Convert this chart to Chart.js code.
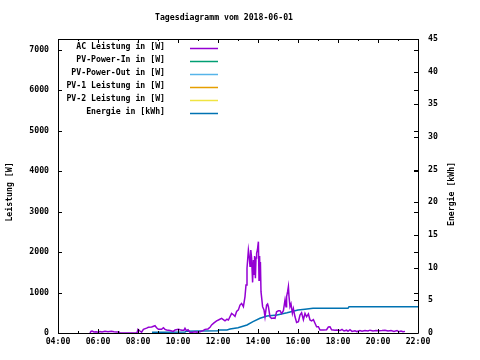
<!DOCTYPE html>
<html>
<head>
<meta charset="utf-8">
<script src="https://cdn.jsdelivr.net/npm/chart.js"></script>
<style>
  html, body { margin: 0; padding: 0; background: #fff; }
  canvas { display: block; }
</style>
</head>
<body>
<canvas id="chart" width="480" height="360"></canvas>
<script>
// chart data (hours of day, watts / kWh)
const titleText = "Tagesdiagramm vom 2018-06-01";
const seriesNames = ["AC Leistung in [W]", "PV-Power-In in [W]", "PV-Power-Out in [W]",
  "PV-1 Leistung in [W]", "PV-2 Leistung in [W]", "Energie in [kWh]"];
const seriesColors = ["#9400d3", "#009e73", "#56b4e9", "#e69f00", "#f0e442", "#0072b2"];

const acHours = [5.60, 5.65, 5.70, 5.80, 5.90, 6.00, 6.10, 6.20, 6.35, 6.50, 6.67, 6.80, 6.95, 7.05, 7.10,
  7.95, 8.00, 8.10, 8.18, 8.27, 8.43, 8.52, 8.68, 8.85, 8.93, 9.02, 9.18, 9.27, 9.35, 9.43, 9.60, 9.77, 9.85,
  10.02, 10.10, 10.20, 10.30, 10.35, 10.42, 10.50, 10.60, 10.70, 10.85, 10.95, 11.10, 11.25, 11.35, 11.50,
  11.60, 11.68, 11.80, 11.93, 12.02, 12.18, 12.35, 12.45, 12.52, 12.68, 12.77, 12.85, 12.93, 13.02, 13.10,
  13.18, 13.27, 13.35, 13.40, 13.45, 13.52, 13.56, 13.60, 13.64, 13.68, 13.73, 13.77, 13.80, 13.83, 13.87,
  13.90, 13.93, 13.97, 14.02, 14.05, 14.08, 14.10, 14.12, 14.15, 14.23, 14.30, 14.35, 14.43, 14.48, 14.52,
  14.60, 14.68, 14.77, 14.85, 14.93, 15.02, 15.10, 15.18, 15.27, 15.35, 15.40, 15.43, 15.48, 15.52, 15.55,
  15.60, 15.65, 15.72, 15.77, 15.85, 15.93, 16.02, 16.10, 16.18, 16.27, 16.35, 16.43, 16.52, 16.60, 16.68,
  16.77, 16.85, 16.93, 17.02, 17.10, 17.27, 17.43, 17.52, 17.60, 17.68, 17.85, 17.93, 18.10, 18.20, 18.30,
  18.43, 18.50, 18.60, 18.70, 18.85, 18.95, 19.10, 19.20, 19.35, 19.50, 19.60, 19.75, 19.90, 20.05, 20.20,
  20.35, 20.50, 20.65, 20.80, 20.95, 21.05, 21.15, 21.25, 21.35];
const acWatts = [0, 40, 50, 25, 30, 20, 35, 25, 40, 30, 45, 30, 25, 25, 0,
  0, 90, 50, 20, 90, 120, 140, 150, 180, 130, 90, 90, 130, 90, 75, 60, 40, 75,
  90, 80, 70, 70, 115, 60, 80, 20, 15, 30, 20, 30, 60, 90, 100,
  140, 200, 250, 300, 320, 360, 300, 340, 320, 485, 450, 410, 530, 570, 690,
  730, 650, 900, 1185, 1600, 2050, 1900, 1650, 2050, 1850, 1250, 1800, 1450, 1900, 1350,
  1850, 1970, 2050, 2255, 1300, 1900, 1400, 1750, 1020, 650, 570, 400, 690, 715, 650,
  400, 360, 370, 360, 525, 550, 550, 480, 550, 815, 650, 900, 1020, 1145, 900,
  650, 720, 485, 600, 400, 260, 280, 445, 500, 330, 485, 400, 470, 320, 300,
  330, 240, 155, 155, 75, 75, 80, 150, 155, 80, 70, 75, 60, 90, 50,
  70, 40, 80, 40, 55, 35, 60, 45, 60, 50, 70, 50, 60, 55, 60,
  70, 50, 60, 40, 60, 30, 50, 30, 40];

const energyHours = [8.70, 10.35, 10.40, 11.10, 12.00, 12.05, 12.45, 12.60, 13.00, 13.45, 13.75, 14.10,
  14.45, 14.95, 15.45, 16.00, 16.35, 16.75, 18.50, 18.55, 22.00];
const energyKwh = [0.10, 0.15, 0.25, 0.30, 0.35, 0.45, 0.46, 0.60, 0.81, 1.22, 1.73, 2.25,
  2.60, 2.76, 3.10, 3.52, 3.63, 3.78, 3.78, 4.03, 4.03];

const hourTicks = [4, 6, 8, 10, 12, 14, 16, 18, 20, 22];
const wattTicks = [0, 1000, 2000, 3000, 4000, 5000, 6000, 7000];
const kwhTicks = [0, 5, 10, 15, 20, 25, 30, 35, 40, 45];

const FONT = "DejaVu Sans Mono";
Chart.defaults.font.family = FONT;
Chart.defaults.font.size = 8.2;
Chart.defaults.font.weight = "bold";
Chart.defaults.color = "#000";

function toPoints(xs, ys) {
  return xs.map((x, i) => ({ x: x, y: ys[i] }));
}

const datasets = seriesNames.map((name, i) => ({
  label: name,
  data: [],
  borderColor: seriesColors[i],
  borderWidth: 1.5,
  pointRadius: 0,
  tension: 0,
  yAxisID: i === 5 ? "y1" : "y"
}));
datasets[0].data = toPoints(acHours, acWatts);
datasets[5].data = toPoints(energyHours, energyKwh);

// frame, inward ticks, title, axis titles, legend
const decorPlugin = {
  id: "decor",
  afterDatasetsDraw(chart) {
    const ctx = chart.ctx;
    const a = chart.chartArea;
    const sx = chart.scales.x, sy = chart.scales.y, sy1 = chart.scales.y1;
    ctx.save();
    ctx.strokeStyle = "#000";
    ctx.lineWidth = 1;
    ctx.beginPath();
    ctx.rect(Math.round(a.left) + 0.5, Math.round(a.top) + 0.5,
      Math.round(a.right - a.left), Math.round(a.bottom - a.top));
    for (let h = 4; h <= 22; h++) {
      const px = Math.round(sx.getPixelForValue(h)) + 0.5;
      const len = h % 2 === 0 ? 4 : 2;
      ctx.moveTo(px, a.bottom); ctx.lineTo(px, a.bottom - len);
      ctx.moveTo(px, a.top); ctx.lineTo(px, a.top + len);
    }
    wattTicks.forEach(v => {
      const py = Math.round(sy.getPixelForValue(v)) + 0.5;
      ctx.moveTo(a.left, py); ctx.lineTo(a.left + 4, py);
      ctx.moveTo(a.right, py); ctx.lineTo(a.right - 4, py);
    });
    kwhTicks.forEach(v => {
      const py = Math.round(sy1.getPixelForValue(v)) + 0.5;
      ctx.moveTo(a.right, py); ctx.lineTo(a.right - 4, py);
    });
    ctx.stroke();

    ctx.fillStyle = "#000";
    ctx.font = "bold 8.2px " + FONT;
    ctx.textBaseline = "middle";
    ctx.textAlign = "center";
    ctx.fillText(titleText, 224, 18);

    ctx.save();
    ctx.translate(10, 192);
    ctx.rotate(-Math.PI / 2);
    ctx.fillText("Leistung [W]", 0, 0);
    ctx.restore();
    ctx.save();
    ctx.translate(452, 194);
    ctx.rotate(-Math.PI / 2);
    ctx.fillText("Energie [kWh]", 0, 0);
    ctx.restore();

    // legend
    ctx.textAlign = "right";
    chart.data.datasets.forEach((ds, i) => {
      const y = 47.3 + i * 12.9;
      ctx.fillStyle = "#000";
      ctx.fillText(ds.label, 165, y);
      ctx.strokeStyle = ds.borderColor;
      ctx.lineWidth = 1.5;
      ctx.beginPath();
      ctx.moveTo(190, Math.round(y) + 1.5);
      ctx.lineTo(218, Math.round(y) + 1.5);
      ctx.stroke();
    });
    ctx.restore();
  }
};

new Chart(document.getElementById("chart"), {
  type: "line",
  data: { datasets: datasets },
  options: {
    responsive: false,
    animation: false,
    layout: { padding: { top: 39, left: 0, right: 0, bottom: 0 } },
    plugins: { legend: { display: false }, tooltip: { enabled: false } },
    scales: {
      x: {
        type: "linear",
        min: 4,
        max: 22,
        grid: { display: false, drawTicks: false },
        border: { display: false },
        ticks: {
          stepSize: 2,
          padding: 4,
          maxRotation: 0,
          autoSkip: false,
          callback: v => String(v).padStart(2, "0") + ":00"
        },
        afterFit: s => { s.height = 27; }
      },
      y: {
        position: "left",
        min: 0,
        max: 7260,
        grid: { display: false, drawTicks: false },
        border: { display: false },
        ticks: { stepSize: 1000, padding: 9, callback: v => String(v) },
        afterBuildTicks: s => { s.ticks = wattTicks.map(v => ({ value: v })); },
        afterFit: s => { s.width = 58; }
      },
      y1: {
        position: "right",
        min: 0,
        max: 45,
        grid: { display: false, drawTicks: false },
        border: { display: false },
        ticks: { stepSize: 5, padding: 10, callback: v => String(v) },
        afterBuildTicks: s => { s.ticks = kwhTicks.map(v => ({ value: v })); },
        afterFit: s => { s.width = 62; }
      }
    }
  },
  plugins: [decorPlugin]
});
</script>
</body>
</html>
